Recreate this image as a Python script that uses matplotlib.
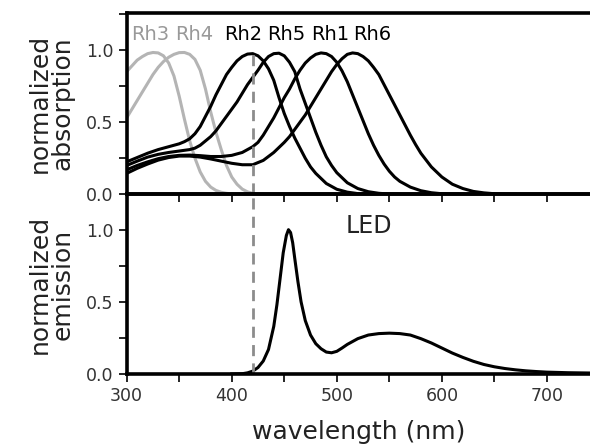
import matplotlib
matplotlib.use('Agg')
import matplotlib.pyplot as plt
from matplotlib.ticker import MultipleLocator

# ---- dados (comprimento de onda em nm, valores normalizados) ----
rh3_nm = [300, 305, 310, 315, 320, 325, 330, 335, 340, 345, 350, 355, 360, 365, 370,
          375, 380, 385, 390, 395, 400, 405, 410]
rh3 = [0.85, 0.89, 0.93, 0.955, 0.975, 0.983, 0.98, 0.96, 0.91, 0.82, 0.68, 0.52, 0.37,
       0.25, 0.155, 0.09, 0.05, 0.027, 0.014, 0.007, 0.003, 0.001, 0.0]

rh4_nm = [300, 305, 310, 315, 320, 325, 330, 335, 340, 345, 350, 355, 360, 365, 370,
          375, 380, 385, 390, 395, 400, 405, 410, 415, 420, 425, 430]
rh4 = [0.53, 0.59, 0.65, 0.71, 0.77, 0.83, 0.88, 0.92, 0.95, 0.97, 0.982, 0.983, 0.97,
       0.935, 0.86, 0.73, 0.57, 0.43, 0.31, 0.2, 0.12, 0.07, 0.036, 0.017, 0.007, 0.002, 0.0]

rh2_nm = [300, 310, 320, 330, 340, 350, 355, 360, 365, 370, 375, 380, 385, 390, 395,
          400, 405, 410, 415, 420, 425, 430, 435, 440, 445, 450, 455, 460, 465, 470,
          475, 480, 490, 500, 510, 520, 530]
rh2 = [0.225, 0.255, 0.285, 0.31, 0.33, 0.35, 0.365, 0.385, 0.42, 0.47, 0.54, 0.61,
       0.69, 0.76, 0.83, 0.88, 0.925, 0.955, 0.972, 0.975, 0.96, 0.925, 0.87, 0.79,
       0.67, 0.56, 0.47, 0.39, 0.32, 0.25, 0.19, 0.145, 0.075, 0.035, 0.015, 0.005, 0.0]

rh5_nm = [300, 310, 320, 330, 340, 350, 360, 365, 370, 375, 380, 385, 390, 395, 400,
          405, 410, 415, 420, 425, 430, 435, 440, 445, 450, 455, 460, 465, 470, 475,
          480, 485, 490, 495, 500, 510, 520, 530, 540, 550, 560]
rh5 = [0.2, 0.23, 0.258, 0.277, 0.29, 0.3, 0.31, 0.32, 0.34, 0.37, 0.4, 0.44, 0.49,
       0.54, 0.59, 0.64, 0.7, 0.76, 0.81, 0.86, 0.915, 0.955, 0.975, 0.978, 0.96,
       0.915, 0.85, 0.73, 0.63, 0.53, 0.43, 0.34, 0.26, 0.2, 0.15, 0.08, 0.04, 0.018,
       0.007, 0.002, 0.0]

rh1_nm = [300, 310, 320, 330, 340, 350, 360, 370, 380, 390, 400, 410, 420, 425, 430,
          435, 440, 445, 450, 455, 460, 465, 470, 475, 480, 485, 490, 495, 500, 505,
          510, 515, 520, 525, 530, 535, 540, 545, 550, 555, 560, 570, 580, 590, 600,
          610, 620]
rh1 = [0.17, 0.2, 0.225, 0.247, 0.262, 0.27, 0.272, 0.268, 0.262, 0.262, 0.27, 0.29,
       0.33, 0.36, 0.41, 0.47, 0.53, 0.6, 0.67, 0.73, 0.8, 0.86, 0.91, 0.945, 0.97,
       0.98, 0.975, 0.955, 0.915, 0.855, 0.78, 0.69, 0.6, 0.51, 0.42, 0.34, 0.27,
       0.21, 0.16, 0.12, 0.09, 0.05, 0.025, 0.011, 0.004, 0.001, 0.0]

rh6_nm = [300, 310, 320, 330, 340, 350, 360, 370, 380, 390, 400, 410, 420, 430, 440,
          450, 455, 460, 465, 470, 475, 480, 485, 490, 495, 500, 505, 510, 515, 520,
          525, 530, 535, 540, 545, 550, 555, 560, 565, 570, 575, 580, 590, 600, 610,
          620, 630, 640, 650, 660, 670]
rh6 = [0.145, 0.18, 0.21, 0.237, 0.255, 0.265, 0.265, 0.258, 0.245, 0.23, 0.215, 0.205,
       0.205, 0.235, 0.29, 0.36, 0.4, 0.45, 0.5, 0.55, 0.61, 0.67, 0.73, 0.79, 0.85,
       0.9, 0.94, 0.97, 0.98, 0.975, 0.955, 0.925, 0.88, 0.83, 0.76, 0.69, 0.62, 0.55,
       0.48, 0.41, 0.345, 0.285, 0.19, 0.12, 0.07, 0.04, 0.02, 0.01, 0.004, 0.001, 0.0]

led_nm = [400, 410, 415, 420, 425, 430, 435, 440, 443, 446, 449, 452, 454, 456, 458,
          460, 463, 466, 470, 475, 480, 485, 490, 495, 500, 505, 510, 520, 530, 540,
          550, 560, 570, 580, 590, 600, 610, 620, 630, 640, 650, 660, 670, 680, 690,
          700, 720, 750]
led = [0.0, 0.002, 0.008, 0.02, 0.045, 0.09, 0.17, 0.33, 0.48, 0.66, 0.84, 0.96, 1.0,
       0.98, 0.91, 0.8, 0.64, 0.5, 0.37, 0.27, 0.21, 0.175, 0.152, 0.147, 0.157, 0.18,
       0.205, 0.245, 0.27, 0.28, 0.283, 0.28, 0.27, 0.245, 0.215, 0.18, 0.145, 0.115,
       0.088, 0.066, 0.05, 0.038, 0.029, 0.022, 0.017, 0.013, 0.009, 0.006]

rh_names = ['Rh3', 'Rh4', 'Rh2', 'Rh5', 'Rh1', 'Rh6']
dash_nm = 420  # linha tracejada (pico do Rh2)

# ---- figura ----
fig = plt.figure(figsize=(5.9, 4.47), dpi=100)
ax1 = fig.add_axes([0.2147, 0.5653, 0.7853, 0.4067])
ax2 = fig.add_axes([0.2147, 0.1633, 0.7853, 0.4020])
ax2.patch.set_alpha(0)  # deixa os ticks do painel de cima aparecerem

cinza = '#b4b4b4'
ax1.plot(rh3_nm, rh3, color=cinza, lw=2.2)
ax1.plot(rh4_nm, rh4, color=cinza, lw=2.2)
for nm, vals in [(rh2_nm, rh2), (rh5_nm, rh5), (rh1_nm, rh1), (rh6_nm, rh6)]:
    ax1.plot(nm, vals, color='black', lw=2.2)

ax2.plot(led_nm, led, color='black', lw=2.2)

# linha tracejada em 420 nm
estilo_tracejado = dict(color='#8c8c8c', lw=2.0, dashes=(4, 2.6))
ax1.plot([dash_nm, dash_nm], [0, max(rh2)], **estilo_tracejado)
ax2.axvline(dash_nm, **estilo_tracejado)

# rótulos das curvas
rotulo_x = [322, 364, 411, 452, 494, 534]
rotulo_cor = ['#999999', '#999999', 'black', 'black', 'black', 'black']
for nome, x, cor in zip(rh_names, rotulo_x, rotulo_cor):
    ax1.text(x, 1.07, nome, ha='center', va='baseline', fontsize=14, color=cor)
ax2.text(531, 0.98, 'LED', ha='center', va='baseline', fontsize=17, color='#222222')

for ax, ytop in [(ax1, 1.26), (ax2, 1.245)]:
    ax.set_xlim(300, 741)
    ax.set_ylim(0, ytop)
    ax.spines['right'].set_visible(False)
    for lado in ['left', 'top', 'bottom']:
        ax.spines[lado].set_linewidth(2.6)
    ax.xaxis.set_major_locator(MultipleLocator(100))
    ax.xaxis.set_minor_locator(MultipleLocator(50))
    ax.yaxis.set_major_locator(MultipleLocator(0.5))
    ax.yaxis.set_minor_locator(MultipleLocator(0.25))
    ax.yaxis.set_major_formatter('{x:.1f}')
    ax.tick_params(which='both', direction='out', length=5.5, width=1.2,
                   labelsize=12.5, labelcolor='#333333', pad=4)

ax1.tick_params(axis='x', labelbottom=False)

ax1.set_ylabel('normalized\nabsorption', fontsize=18, linespacing=0.95,
               color='#222222', labelpad=8)
ax2.set_ylabel('normalized\nemission', fontsize=18, linespacing=0.95,
               color='#222222', labelpad=8)
ax2.set_xlabel('wavelength (nm)', fontsize=18, color='#222222', labelpad=11)

fig.savefig('out.png', dpi=100)
